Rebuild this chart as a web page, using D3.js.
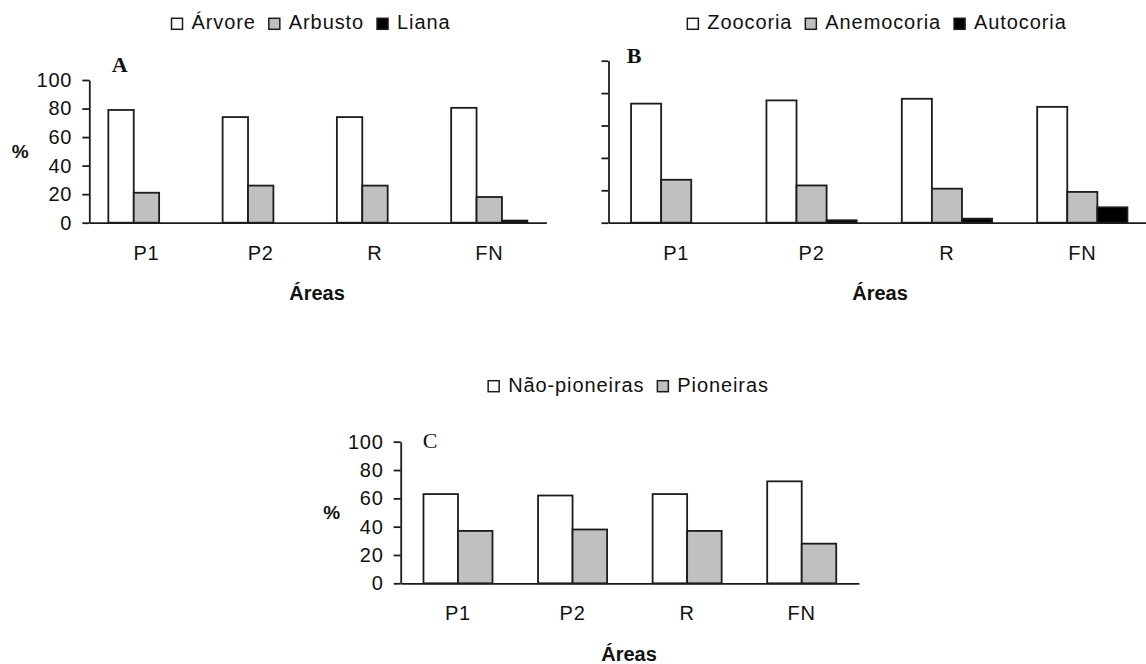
<!DOCTYPE html>
<html>
<head>
<meta charset="utf-8">
<script src="https://cdn.jsdelivr.net/npm/d3@7"></script>
<style>
  html, body { margin: 0; padding: 0; background: #fff; }
  svg { display: block; }
  text { fill: #111; }
</style>
</head>
<body>
<svg id="chart" width="1146" height="664"></svg>
<script>
// Study areas shared by the three panels
const areas = ["P1", "P2", "R", "FN"];
const yTicks = [0, 20, 40, 60, 80, 100];

// A: growth habit (%)
const habitSeries = ["Árvore", "Arbusto", "Liana"];
const arvore  = [79, 74, 74, 80.5];
const arbusto = [21, 26, 26, 18];
const liana   = [0, 0, 0, 1.5];

// B: dispersal syndrome (%)
const dispersalSeries = ["Zoocoria", "Anemocoria", "Autocoria"];
const zoocoria   = [73.5, 75.5, 76.5, 71.5];
const anemocoria = [26.5, 23, 21, 19];
const autocoria  = [0, 1.5, 2.5, 9.5];

// C: successional group (%)
const guildSeries = ["Não-pioneiras", "Pioneiras"];
const naoPioneiras = [63, 62, 63, 72];
const pioneiras    = [37, 38, 37, 28];

const fills = ["#ffffff", "#c0c0c0", "#000000"];

const SANS = "'Liberation Sans', Arial, sans-serif";
const SERIF = "'Liberation Serif', 'Times New Roman', serif";

const panels = [
  { letter: "A", letterBold: true, lx: 111.7, ly: 71.7,
    series: habitSeries, values: [arvore, arbusto, liana],
    xRange: [89.3, 546.4], y0: 222.7, y100: 80, gap: 1.5,
    tickLabels: true, titleX: 317, legendCenter: 311, legendY: 29.3 },
  { letter: "B", letterBold: true, lx: 626.7, ly: 63.3,
    series: dispersalSeries, values: [zoocoria, anemocoria, autocoria],
    xRange: [608.5, 1150], y0: 222.7, y100: 60.7, gap: 1.5,
    tickLabels: false, titleX: 880, legendCenter: 877, legendY: 29.3 },
  { letter: "C", letterBold: false, lx: 422.7, ly: 448.3,
    series: guildSeries, values: [naoPioneiras, pioneiras],
    xRange: [400.7, 859], y0: 583.3, y100: 441.7, gap: 1.32,
    tickLabels: true, titleX: 629, legendCenter: 628.5, legendY: 391.7 }
];

const svg = d3.select("#chart");
const ink = "#1c1c1c";

panels.forEach(p => {
  const g = svg.append("g");
  const x0 = d3.scaleBand().domain(areas).range(p.xRange);
  const w = x0.bandwidth() / (p.series.length + p.gap);
  const x1 = d3.scaleBand().domain(p.series)
    .range([p.gap * w / 2, p.gap * w / 2 + p.series.length * w]);
  const y = d3.scaleLinear().domain([0, 100]).range([p.y0, p.y100]);

  // bars
  p.series.forEach((s, si) => {
    g.append("g").selectAll("rect")
      .data(p.values[si].map((v, i) => ({ area: areas[i], v })))
      .join("rect")
      .attr("x", d => x0(d.area) + x1(s))
      .attr("y", d => y(d.v))
      .attr("width", x1.bandwidth())
      .attr("height", d => y(0) - y(d.v))
      .attr("fill", fills[si])
      .attr("stroke", ink)
      .attr("stroke-width", 1.8);
  });

  // y axis
  const yAxis = d3.axisLeft(y).tickValues(yTicks).tickSize(7).tickSizeOuter(0)
    .tickPadding(10)
    .tickFormat(p.tickLabels ? d3.format("d") : () => "");
  const ya = g.append("g").attr("transform", `translate(${p.xRange[0]},0)`).call(yAxis);
  ya.select(".domain").attr("stroke", ink).attr("stroke-width", 1.8);
  ya.selectAll(".tick line").attr("stroke", ink).attr("stroke-width", 1.8);
  ya.selectAll(".tick text").attr("font-size", 20).attr("fill", "#111")
    .style("font-family", SANS).style("letter-spacing", "0.8px");

  // x axis
  const xAxis = d3.axisBottom(x0).tickSize(0).tickSizeOuter(0).tickPadding(23);
  const xa = g.append("g").attr("transform", `translate(0,${p.y0})`).call(xAxis);
  xa.select(".domain").attr("stroke", ink).attr("stroke-width", 1.8);
  xa.selectAll(".tick text").attr("font-size", 20).attr("fill", "#111")
    .style("font-family", SANS).style("letter-spacing", "0.8px");

  // axis titles
  g.append("text").attr("x", p.titleX)
    .attr("y", p.y0 + 77.3).attr("text-anchor", "middle")
    .style("font-family", SANS)
    .attr("font-size", 20).attr("font-weight", "bold").text("Áreas");
  if (p.tickLabels) {
    g.append("text").attr("x", p.xRange[0] - 69).attr("y", (p.y0 + p.y100) / 2)
      .attr("dy", "0.35em").attr("text-anchor", "middle")
      .style("font-family", SANS)
      .attr("font-size", 19).attr("font-weight", "bold").text("%");
  }

  // panel letter
  g.append("text").attr("x", p.lx).attr("y", p.ly)
    .style("font-family", SERIF)
    .attr("font-weight", p.letterBold ? "bold" : "normal")
    .attr("font-size", 22).text(p.letter);

  // legend
  const lg = g.append("g");
  let cx = 0;
  p.series.forEach((s, si) => {
    lg.append("rect").attr("x", cx).attr("y", p.legendY - 11).attr("width", 11).attr("height", 11)
      .attr("fill", fills[si]).attr("stroke", ink).attr("stroke-width", 1.5);
    const t = lg.append("text").attr("x", cx + 20).attr("y", p.legendY)
      .style("font-family", SANS)
      .attr("font-size", 20).style("letter-spacing", "0.9px").text(s);
    cx += 20 + t.node().getComputedTextLength() + 13;
  });
  const total = cx - 13;
  lg.attr("transform", `translate(${p.legendCenter - total / 2},0)`);
});
</script>
</body>
</html>
